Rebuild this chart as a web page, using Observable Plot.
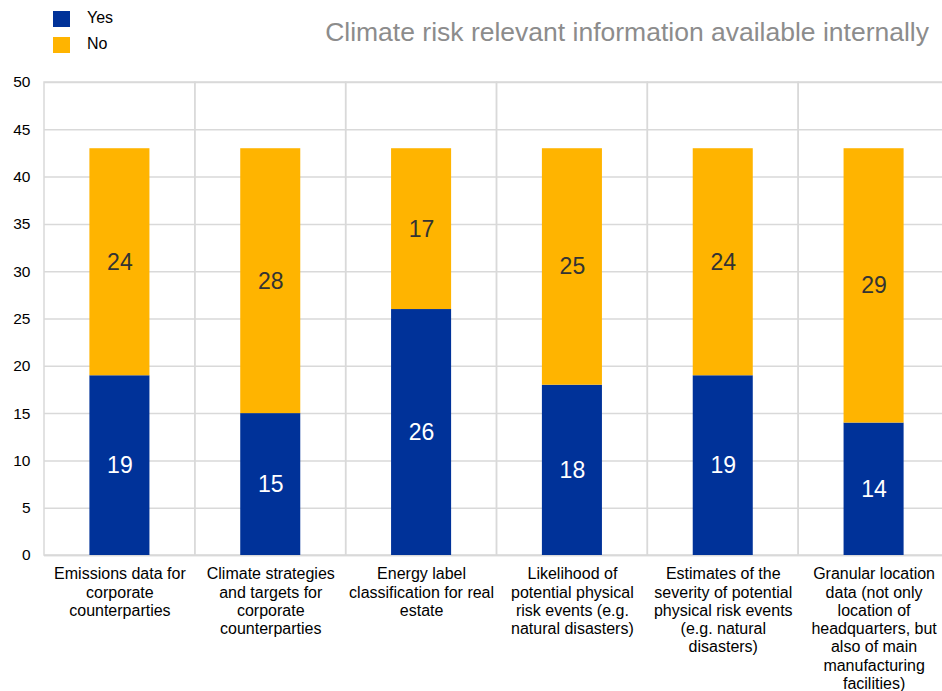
<!DOCTYPE html>
<html>
<head>
<meta charset="utf-8">
<script src="https://cdn.jsdelivr.net/npm/d3@7"></script>
<script src="https://cdn.jsdelivr.net/npm/@observablehq/plot@0.6"></script>
<style>
  html, body { margin: 0; padding: 0; background: #fff; width: 942px; height: 691px; overflow: hidden; font-family: Arial, "Liberation Sans", sans-serif; }
  #header { position: relative; height: 70px; }
  .sw { position: absolute; left: 53px; width: 17px; height: 16px; }
  .lt { position: absolute; left: 87px; font-size: 16px; color: #000; line-height: 18px; }
  #title { position: absolute; right: 13px; top: 17px; font-size: 26.5px; line-height: 30px; color: #8c8c8c; white-space: nowrap; }
</style>
</head>
<body>
<div id="header"></div>
<div id="chart"></div>
<script>
const categories = [
  "Emissions data for\ncorporate\ncounterparties",
  "Climate strategies\nand targets for\ncorporate\ncounterparties",
  "Energy label\nclassification for real\nestate",
  "Likelihood of\npotential physical\nrisk events (e.g.\nnatural disasters)",
  "Estimates of the\nseverity of potential\nphysical risk events\n(e.g. natural\ndisasters)",
  "Granular location\ndata (not only\nlocation of\nheadquarters, but\nalso of main\nmanufacturing\nfacilities)"
];
const seriesNames = ["Yes", "No"];
const yesValues = [19, 15, 26, 18, 19, 14];
const noValues = [24, 28, 17, 25, 24, 29];
const yTicks = [0, 5, 10, 15, 20, 25, 30, 35, 40, 45, 50];
const colors = ["#003299", "#FFB400"];
const titleText = "Climate risk relevant information available internally";

const table = [];
categories.forEach((c, i) => {
  table.push({category: c, series: "Yes", value: yesValues[i]});
  table.push({category: c, series: "No", value: noValues[i]});
});

// header
const header = document.getElementById("header");
seriesNames.forEach((s, i) => {
  const sw = document.createElement("div");
  sw.className = "sw";
  sw.style.top = (11 + i * 26) + "px";
  sw.style.background = colors[i];
  header.appendChild(sw);
  const lt = document.createElement("div");
  lt.className = "lt";
  lt.style.top = (9 + i * 26) + "px";
  lt.textContent = s;
  header.appendChild(lt);
});
const t = document.createElement("div");
t.id = "title";
t.textContent = titleText;
header.appendChild(t);

const grid = "#d9d9d9";
const chart = Plot.plot({
  width: 942,
  height: 621,
  marginTop: 12,
  marginBottom: 136,
  marginLeft: 44,
  marginRight: 0,
  style: {fontFamily: "Arial, 'Liberation Sans', sans-serif", fontSize: "15px", color: "#000", overflow: "visible"},
  x: {domain: categories, range: [44, 949], padding: 0, round: false, label: null},
  y: {domain: [0, 50], ticks: yTicks, label: null},
  color: {domain: seriesNames, range: colors},
  marks: [
    Plot.gridY(yTicks, {stroke: grid, strokeOpacity: 1, strokeWidth: 1.5}),
    Plot.barY(categories, {x: d => d, y1: 0, y2: 50, fill: "none", stroke: grid, strokeWidth: 1.5}),
    Plot.ruleY([0], {stroke: grid, strokeWidth: 1.5}),
    Plot.barY(table, Plot.stackY({x: "category", y: "value", fill: "series", order: seriesNames, insetLeft: 45.4, insetRight: 45.4})),
    Plot.text(table, Plot.stackY({x: "category", y: "value", z: "series", order: seriesNames, text: d => d.value, fill: d => d.series === "Yes" ? "#ffffff" : "#333333", fontSize: 23})),
    Plot.axisY(yTicks, {tickSize: 0, tickPadding: 14, fontSize: 15.5, fill: "#000"}),
    Plot.axisX({tickSize: 0, tickPadding: 11, fontSize: 16, lineHeight: 1.14, fill: "#000", textAnchor: "middle"})
  ]
});
document.getElementById("chart").appendChild(chart);
</script>
</body>
</html>
